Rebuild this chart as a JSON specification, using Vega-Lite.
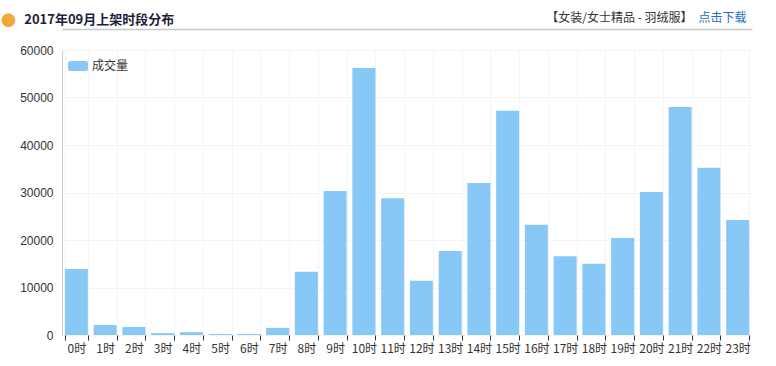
{
  "$schema": "https://vega.github.io/schema/vega-lite/v6.json",
  "width": 690,
  "height": 285,
  "autosize": {"type": "none"},
  "padding": {"left": 62, "top": 50, "right": 24, "bottom": 31},
  "background": "white",
  "title": {
    "text": "\u2800\u2800\u20052017年09月上架时段分布",
    "subtitle": "●",
    "anchor": "start",
    "frame": "group",
    "dx": -61,
    "dy": 22,
    "fontSize": 13,
    "fontWeight": "bold",
    "color": "#1e1e3c",
    "font": "Noto Sans CJK SC",
    "subtitleColor": "#f3a73a",
    "subtitleFontSize": 15,
    "subtitlePadding": -13
  },
  "config": {
    "view": {"stroke": null},
    "font": "Noto Sans CJK SC"
  },
  "data": {
    "values": [
      {"hour": "0时", "value": 13900},
      {"hour": "1时", "value": 2100},
      {"hour": "2时", "value": 1700},
      {"hour": "3时", "value": 400},
      {"hour": "4时", "value": 600},
      {"hour": "5时", "value": 200},
      {"hour": "6时", "value": 200},
      {"hour": "7时", "value": 1500},
      {"hour": "8时", "value": 13300},
      {"hour": "9时", "value": 30300},
      {"hour": "10时", "value": 56200},
      {"hour": "11时", "value": 28800},
      {"hour": "12时", "value": 11400},
      {"hour": "13时", "value": 17700},
      {"hour": "14时", "value": 32000},
      {"hour": "15时", "value": 47200},
      {"hour": "16时", "value": 23200},
      {"hour": "17时", "value": 16600},
      {"hour": "18时", "value": 15000},
      {"hour": "19时", "value": 20400},
      {"hour": "20时", "value": 30100},
      {"hour": "21时", "value": 48000},
      {"hour": "22时", "value": 35200},
      {"hour": "23时", "value": 24200}
    ]
  },
  "layer": [
    {
      "mark": {"type": "bar"},
      "encoding": {
        "x": {
          "field": "hour",
          "type": "nominal",
          "sort": null,
          "scale": {"paddingInner": 0.2, "paddingOuter": 0.1},
          "axis": {
            "title": null,
            "labelAngle": 0,
            "tickBand": "extent",
            "domain": false,
            "ticks": true,
            "tickSize": 5,
            "tickColor": "#333333",
            "labelColor": "#333333",
            "labelFontSize": 12,
            "labelPadding": 3,
            "grid": true,
            "gridColor": "#f4f4f4"
          }
        },
        "y": {
          "field": "value",
          "type": "quantitative",
          "scale": {"domain": [0, 60000], "nice": false},
          "axis": {
            "title": null,
            "values": [0, 10000, 20000, 30000, 40000, 50000, 60000],
            "format": "d",
            "ticks": false,
            "domain": true,
            "domainColor": "#cccccc",
            "labelColor": "#333333",
            "labelFont": "Liberation Sans",
            "labelFontSize": 12,
            "labelPadding": 9,
            "grid": true,
            "gridColor": "#f4f4f4"
          }
        },
        "color": {
          "datum": "成交量",
          "type": "nominal",
          "scale": {"range": ["#88c8f6"]},
          "legend": {
            "title": null,
            "orient": "top-left",
            "offset": 6,
            "padding": 0,
            "symbolType": "M-0.8,-0.5H0.8A0.2,0.2,0,0,1,1,-0.3V0.3A0.2,0.2,0,0,1,0.8,0.5H-0.8A0.2,0.2,0,0,1,-1,0.3V-0.3A0.2,0.2,0,0,1,-0.8,-0.5Z",
            "symbolSize": 400,
            "symbolStrokeWidth": 0,
            "symbolOpacity": 1,
            "labelFontSize": 12,
            "labelColor": "#333333",
            "labelOffset": 4
          }
        }
      }
    },
    {
      "mark": {"type": "bar", "opacity": 0},
      "encoding": {
        "x": {
          "field": "hour",
          "type": "nominal",
          "sort": null,
          "axis": {
            "orient": "top",
            "offset": 21,
            "labels": false,
            "ticks": false,
            "grid": false,
            "domain": true,
            "domainColor": "#c8c8c8",
            "domainWidth": 1.5,
            "title": "【女装/女士精品 - 羽绒服】",
            "titleFontSize": 12,
            "titleFontWeight": "normal",
            "titleColor": "#333333",
            "titleAlign": "right",
            "titleBaseline": "middle",
            "titleX": 630,
            "titleY": -12
          }
        },
        "y": {
          "field": "value",
          "type": "quantitative",
          "axis": {
            "orient": "right",
            "labels": false,
            "ticks": false,
            "grid": false,
            "domain": false,
            "title": "点击下载",
            "titleAngle": 0,
            "titleFontSize": 12,
            "titleFontWeight": "normal",
            "titleColor": "#1f6fc0",
            "titleAlign": "right",
            "titleBaseline": "middle",
            "titleX": -6,
            "titleY": -33
          }
        }
      }
    }
  ],
  "resolve": {"axis": {"x": "independent", "y": "independent"}}
}
